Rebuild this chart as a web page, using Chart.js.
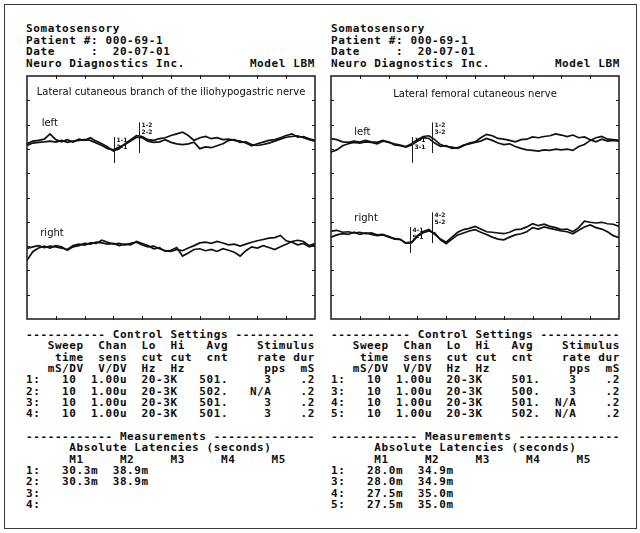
<!DOCTYPE html>
<html>
<head>
<meta charset="utf-8">
<title>Somatosensory report</title>
<script src="https://cdn.jsdelivr.net/npm/chart.js@4.4.1/dist/chart.umd.min.js"></script>
<style>
  body { margin: 0; background: #fff; }
  #page { position: relative; width: 640px; height: 533px; overflow: hidden; }
  #border { position: absolute; left: 4px; top: 4px; width: 631px; height: 523px; border: 1px solid #3a3a3a; }
  .mono { position: absolute; margin: 0; font: bold 11px "DejaVu Sans Mono", monospace; letter-spacing: 0.6px; color: #0d0d0d; white-space: pre; }
  .head { top: 23px; line-height: 11.6px; }
  .report { top: 329px; line-height: 11.33px; }
  canvas { position: absolute; top: 75px; }
</style>
</head>
<body>
<div id="page">
  <div id="border"></div>
  <pre class="mono head" id="headL" style="left:26px"></pre>
  <pre class="mono head" id="headR" style="left:331px"></pre>
  <canvas id="ilioChart" width="290" height="245" style="left:26px"></canvas>
  <canvas id="femChart" width="290" height="245" style="left:330px"></canvas>
  <pre class="mono report" id="repL" style="left:26px"></pre>
  <pre class="mono report" id="repR" style="left:331px"></pre>
</div>
<script>
// sample times (ms) along the sweep, 10 mS/DV x 10 divisions
const timesMs = [0, 2, 4, 6, 8, 10, 12, 14, 16, 18, 20, 22, 24, 26, 28, 30, 32, 34, 36, 38, 40,
  42, 44, 46, 48, 50, 52, 54, 56, 58, 60, 62, 64, 66, 68, 70, 72, 74, 76, 78, 80,
  82, 84, 86, 88, 90, 92, 94, 96, 98, 100];
const xTickMs = [10, 20, 30, 40, 50, 60, 70, 80, 90];
const yTickDiv = [1, 2, 3, 4, 5, 6, 7, 8, 9];

// trace amplitudes (uV, 1.00u per division), relative to each channel baseline
// iliohypogastric - left side (rows 1, 2)
const ilioLeftA = [-0.07, 0.04, 0.07, 0.12, 0.34, 0.10, 0.01, 0.10, 0.00, 0.12,
  0.07, 0.18, 0.04, -0.07, -0.20, -0.37, -0.27, -0.07, 0.10, 0.27,
  0.23, 0.10, 0.07, 0.14, 0.18, 0.27, 0.34, 0.41, 0.27, 0.07,
  0.18, 0.23, 0.14, 0.18, 0.10, 0.12, 0.07, 0.04, -0.04, -0.15,
  -0.07, 0.00, 0.07, 0.10, 0.18, 0.27, 0.34, 0.20, 0.23, 0.14, 0.07];
const ilioLeftB = [-0.14, -0.04, -0.01, 0.01, 0.04, 0.00, 0.07, -0.01, 0.04, 0.07,
  0.10, 0.07, -0.04, -0.14, -0.27, -0.32, -0.20, -0.10, 0.04, 0.20,
  0.18, 0.04, -0.01, 0.01, 0.10, -0.01, -0.07, -0.10, -0.07, 0.00,
  -0.27, -0.20, -0.23, -0.15, -0.07, 0.07, 0.10, -0.01, 0.01, -0.10,
  -0.14, -0.10, -0.04, 0.04, 0.12, 0.20, 0.23, 0.26, 0.18, 0.10, 0.04];
// iliohypogastric - right side (rows 3, 4)
const ilioRightA = [-0.07, 0.00, 0.05, -0.03, 0.03, 0.00, -0.05, -0.11, 0.05, 0.11,
  0.07, 0.16, 0.14, 0.27, 0.19, 0.11, 0.14, 0.08, 0.14, 0.19,
  0.08, 0.00, 0.03, -0.08, -0.16, -0.19, -0.11, -0.16, -0.05, 0.05,
  0.16, 0.19, 0.14, 0.22, 0.16, 0.08, 0.11, 0.03, 0.11, 0.19,
  0.25, 0.30, 0.36, 0.38, 0.47, 0.25, 0.19, 0.08, 0.14, 0.00, 0.07];
const ilioRightB = [-0.55, -0.20, -0.05, 0.03, -0.05, 0.05, 0.00, -0.14, 0.00, 0.05,
  0.14, 0.11, 0.19, 0.16, 0.11, 0.14, 0.05, 0.11, 0.08, 0.22,
  0.14, 0.05, -0.08, -0.03, -0.19, -0.14, -0.03, -0.38, -0.25, -0.11,
  -0.08, -0.16, -0.11, -0.19, -0.08, -0.14, -0.22, -0.38, -0.16, 0.00,
  -0.05, 0.05, -0.03, -0.11, 0.00, 0.11, 0.22, 0.27, 0.22, 0.05, 0.14];
// femoral cutaneous - left side (rows 1, 3)
const femLeftA = [0.14, 0.10, 0.01, -0.01, 0.04, 0.00, 0.07, 0.01, -0.01, 0.07,
  -0.01, -0.07, -0.12, -0.18, -0.07, 0.10, 0.23, 0.26, 0.10, -0.10,
  -0.18, -0.21, -0.26, -0.15, -0.04, 0.01, 0.18, 0.32, 0.26, 0.15,
  0.12, 0.07, 0.01, 0.10, 0.12, 0.21, 0.18, 0.23, 0.26, 0.34,
  0.29, 0.23, 0.29, 0.18, 0.21, 0.10, 0.01, 0.12, 0.04, 0.07, 0.04];
const femLeftB = [-0.41, -0.32, -0.15, -0.07, -0.01, -0.04, 0.01, -0.01, -0.07, 0.04,
  0.01, -0.12, -0.15, -0.21, -0.12, 0.04, 0.18, 0.15, -0.04, -0.18,
  -0.15, -0.26, -0.23, -0.12, -0.07, -0.01, 0.04, 0.15, 0.07, -0.04,
  -0.10, -0.07, -0.18, -0.26, -0.32, -0.34, -0.37, -0.32, -0.34, -0.29,
  -0.32, -0.29, -0.34, -0.18, -0.10, 0.07, 0.18, 0.23, 0.12, 0.10, 0.07];
// femoral cutaneous - right side (rows 4, 5)
const femRightA = [0.04, 0.07, -0.01, 0.01, -0.04, -0.01, -0.07, -0.04, -0.12, -0.10,
  -0.21, -0.26, -0.30, -0.45, -0.42, -0.15, 0.02, 0.10, -0.10, -0.29,
  -0.42, -0.21, -0.01, 0.10, 0.15, 0.23, 0.12, 0.01, -0.01, -0.04,
  -0.07, -0.01, 0.10, 0.12, 0.21, 0.34, 0.26, 0.32, 0.23, 0.18,
  0.10, 0.12, 0.01, 0.18, 0.45, 0.40, 0.37, 0.40, 0.34, 0.32, 0.23];
const femRightB = [-0.21, -0.12, -0.07, -0.10, -0.01, -0.10, -0.04, -0.10, -0.15, -0.12,
  -0.18, -0.29, -0.30, -0.47, -0.44, -0.18, -0.03, 0.04, -0.04, -0.32,
  -0.48, -0.29, -0.12, -0.04, 0.04, 0.10, -0.01, -0.10, -0.21, -0.29,
  -0.32, -0.21, -0.12, -0.07, 0.01, 0.18, 0.12, 0.21, 0.15, 0.10,
  0.04, 0.01, -0.07, 0.07, 0.21, 0.29, 0.18, 0.12, 0.01, -0.15, -0.23];

// channel baselines in divisions (0 = bottom of the screen, 10 = top)
const ilioBaselines = [7.28, 2.97];
const femBaselines = [7.28, 3.58];

// table values
const ilioRows = ['1', '2', '3', '4'];
const femRows = ['1', '3', '4', '5'];
const sweepMs = ['10', '10', '10', '10'];
const chanSens = ['1.00u', '1.00u', '1.00u', '1.00u'];
const filters = ['20-3K', '20-3K', '20-3K', '20-3K'];
const stimDur = ['.2', '.2', '.2', '.2'];
const ilioAvg = ['501.', '502.', '501.', '501.'];
const femAvg = ['501.', '500.', '501.', '502.'];
const ilioRate = ['3', 'N/A', '3', '3'];
const femRate = ['3', '3', 'N/A', 'N/A'];
// absolute latencies in ms (M1, M2)
const ilioM1 = [30.3, 30.3, null, null];
const ilioM2 = [38.9, 38.9, null, null];
const femM1 = [28.0, 28.0, 27.5, 27.5];
const femM2 = [34.9, 34.9, 35.0, 35.0];

const headerLines = [
  'Somatosensory',
  'Patient #: 000-69-1',
  'Date     :  20-07-01',
  'Neuro Diagnostics Inc.         Model LBM'
];

// put text into a 40 column printer line
function place(cells) {
  const a = new Array(40).fill(' ');
  cells.forEach(([col, text, right]) => {
    const start = right ? col - text.length + 1 : col;
    for (let i = 0; i < text.length; i++) a[start + i] = text[i];
  });
  return a.join('').replace(/\s+$/, '');
}

function reportText(rows, avg, avgCol, rate, m1, m2) {
  const lines = [
    '----------- Control Settings -----------',
    '   Sweep  Chan  Lo  Hi   Avg    Stimulus',
    '    time  sens  cut cut  cnt    rate dur',
    '   mS/DV  V/DV  Hz  Hz           pps  mS'
  ];
  rows.forEach((r, i) => {
    lines.push(place([[0, r + ':'], [6, sweepMs[i], true], [9, chanSens[i]], [16, filters[i]],
      [avgCol, avg[i]], [33, rate[i], true], [38, stimDur[i]]]));
  });
  lines.push('', '------------ Measurements --------------',
    '      Absolute Latencies (seconds)',
    '      M1     M2     M3     M4     M5');
  rows.forEach((r, i) => {
    const cells = [[0, r + ':']];
    if (m1[i] != null) cells.push([5, m1[i].toFixed(1) + 'm']);
    if (m2[i] != null) cells.push([12, m2[i].toFixed(1) + 'm']);
    lines.push(place(cells));
  });
  return lines.join('\n');
}

document.getElementById('headL').textContent = headerLines.join('\n');
document.getElementById('headR').textContent = headerLines.join('\n');
document.getElementById('repL').textContent = reportText(ilioRows, ilioAvg, 24, ilioRate, ilioM1, ilioM2);
document.getElementById('repR').textContent = reportText(femRows, femAvg, 25, femRate, femM1, femM2);

// frame, inward ticks, title, side labels and latency cursors
const reportFrame = {
  id: 'reportFrame',
  afterDatasetsDraw(chart, args, o) {
    const { ctx, chartArea: a, scales: { x, y } } = chart;
    ctx.save();
    ctx.strokeStyle = '#1a1a1a';
    ctx.lineWidth = 1.5;
    ctx.strokeRect(a.left, a.top, a.right - a.left, a.bottom - a.top);
    ctx.lineWidth = 1;
    ctx.beginPath();
    xTickMs.forEach(v => {
      const px = Math.round(x.getPixelForValue(v)) + 0.5;
      ctx.moveTo(px, a.top - 1); ctx.lineTo(px, a.top + 3);
      ctx.moveTo(px, a.bottom + 1); ctx.lineTo(px, a.bottom - 3);
    });
    yTickDiv.forEach(v => {
      const py = Math.round(y.getPixelForValue(v)) + 0.5;
      ctx.moveTo(a.left, py); ctx.lineTo(a.left + 3, py);
      ctx.moveTo(a.right, py); ctx.lineTo(a.right - 3, py);
    });
    ctx.stroke();

    ctx.fillStyle = '#0d0d0d';
    ctx.font = '10px "DejaVu Sans"';
    ctx.textAlign = 'center';
    ctx.textBaseline = 'middle';
    ctx.fillText(o.title, (a.left + a.right) / 2, a.top + o.titleDy);
    ctx.textAlign = 'left';
    o.sideLabels.forEach(l => ctx.fillText(l.text, x.getPixelForValue(l.x), y.getPixelForValue(l.y)));

    // latency cursors
    ctx.lineWidth = 1;
    ctx.font = 'bold 6px "DejaVu Sans"';
    o.rows.forEach((r, t) => {
      const g = t < 2 ? 0 : 1, k = t % 2, base = o.baselines[g];
      [[o.m1[t], 0.2, -0.85, '1'], [o.m2[t], 0.8, -0.45, '2']].forEach(([lat, up, dn, m]) => {
        if (lat == null) return;
        const px = Math.round(x.getPixelForValue(lat)) + 0.5;
        const top = y.getPixelForValue(base + up);
        ctx.beginPath();
        ctx.moveTo(px, top);
        ctx.lineTo(px, y.getPixelForValue(base + dn));
        ctx.stroke();
        ctx.fillText(r + '-' + m, px + 2, top + 3 + k * 7);
      });
    });
    ctx.restore();
  }
};

function traceData(offsets, base) {
  return timesMs.map((t, i) => ({ x: t, y: base + offsets[i] }));
}

function makeChart(id, traces, baselines, opts) {
  return new Chart(document.getElementById(id), {
    type: 'line',
    data: {
      datasets: traces.map((tr, i) => ({
        data: traceData(tr, baselines[i < 2 ? 0 : 1]),
        borderColor: '#111',
        borderWidth: 1.7,
        pointRadius: 0,
        fill: false,
        tension: 0
      }))
    },
    options: {
      responsive: false,
      animation: false,
      events: [],
      layout: { padding: 1 },
      plugins: {
        legend: { display: false },
        tooltip: { enabled: false },
        reportFrame: Object.assign({ baselines }, opts)
      },
      scales: {
        x: { type: 'linear', min: 0, max: 100, display: false },
        y: { type: 'linear', min: 0, max: 10, display: false }
      }
    },
    plugins: [reportFrame]
  });
}

makeChart('ilioChart', [ilioLeftA, ilioLeftB, ilioRightA, ilioRightB], ilioBaselines, {
  title: 'Lateral cutaneous branch of the iliohypogastric nerve',
  titleDy: 16,
  sideLabels: [{ text: 'left', x: 5.1, y: 8.05 }, { text: 'right', x: 4.6, y: 3.53 }],
  rows: ilioRows, m1: ilioM1, m2: ilioM2
});

makeChart('femChart', [femLeftA, femLeftB, femRightA, femRightB], femBaselines, {
  title: 'Lateral femoral cutaneous nerve',
  titleDy: 18,
  sideLabels: [{ text: 'left', x: 8.1, y: 7.68 }, { text: 'right', x: 8.1, y: 4.14 }],
  rows: femRows, m1: femM1, m2: femM2
});
</script>
</body>
</html>
